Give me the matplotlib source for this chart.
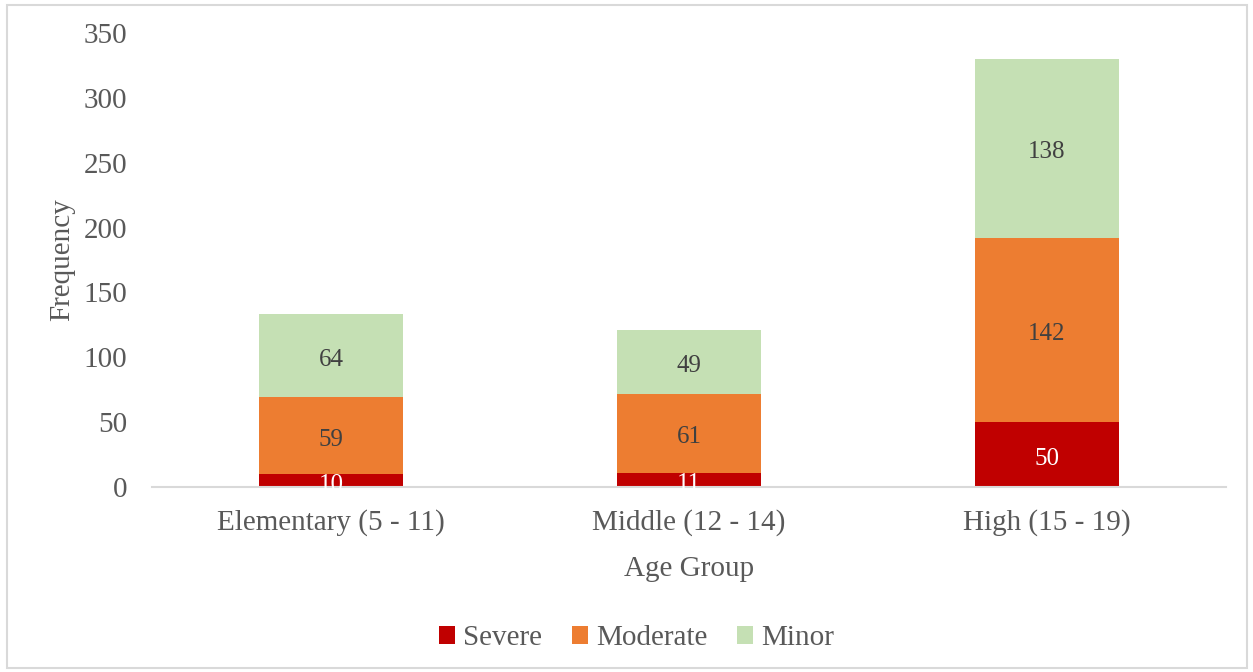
import matplotlib.pyplot as plt
from matplotlib.patches import Rectangle
from matplotlib.transforms import offset_copy
import numpy as np

# age groups and injury counts per severity
groups = ["Elementary (5 - 11)", "Middle (12 - 14)", "High (15 - 19)"]
severe = [10, 11, 50]
moderate = [59, 61, 142]
minor = [64, 49, 138]

series_names = ["Severe", "Moderate", "Minor"]
colors = ["#C00000", "#ED7D31", "#C5E0B4"]
label_colors = ["white", "#404040", "#404040"]

plt.rcParams["font.family"] = ["Liberation Serif", "DejaVu Serif"]
text_gray = "#595959"

fig = plt.figure(figsize=(12.53, 6.72), dpi=100)
ax = fig.add_axes([0.1213, 0.2753, 0.8572, 0.6756])

# value labels sit a touch below the segment middle
label_tf = offset_copy(ax.transData, fig=fig, x=0, y=-4, units="dots")

x = np.arange(len(groups))
bottom = np.zeros(len(groups))
for name, vals, col, lcol in zip(series_names, [severe, moderate, minor], colors, label_colors):
    vals = np.array(vals, dtype=float)
    ax.bar(x, vals, width=0.4, bottom=bottom, color=col, label=name, zorder=2)
    for xi, b, v in zip(x, bottom, vals):
        ax.text(xi, b + v / 2, f"{int(v)}", ha="center", va="center",
                fontsize=18, color=lcol, zorder=3, transform=label_tf)
    bottom += vals

ax.set_xlim(-0.5, 2.5)
ax.set_ylim(0, 350)
ax.set_yticks(range(0, 351, 50))
ax.set_xticks(x)
ax.set_xticklabels(groups)
ax.tick_params(axis="both", length=0, labelsize=21, colors=text_gray)
ax.tick_params(axis="y", pad=18)
ax.tick_params(axis="x", pad=16)

for side in ["top", "right", "left"]:
    ax.spines[side].set_visible(False)
ax.spines["bottom"].set_color("#D9D9D9")
ax.spines["bottom"].set_linewidth(1.5)

ax.set_xlabel("Age Group", fontsize=21, color=text_gray, labelpad=14)
ax.set_ylabel("Frequency", fontsize=21, color=text_gray, labelpad=6)

leg = fig.legend(loc="center", bbox_to_anchor=(0.508, 0.05), ncol=3, frameon=False,
                 fontsize=21, handlelength=0.55, handleheight=0.55, handletextpad=0.3,
                 columnspacing=1.0)
for t in leg.get_texts():
    t.set_color(text_gray)

# thin frame around the whole chart area
fig.patches.append(Rectangle((7 / 1253, 4 / 672), 1 - 13 / 1253, 1 - 9 / 672,
                             transform=fig.transFigure, fill=False,
                             edgecolor="#D9D9D9", linewidth=1.5))

fig.savefig("out.png", dpi=100)
